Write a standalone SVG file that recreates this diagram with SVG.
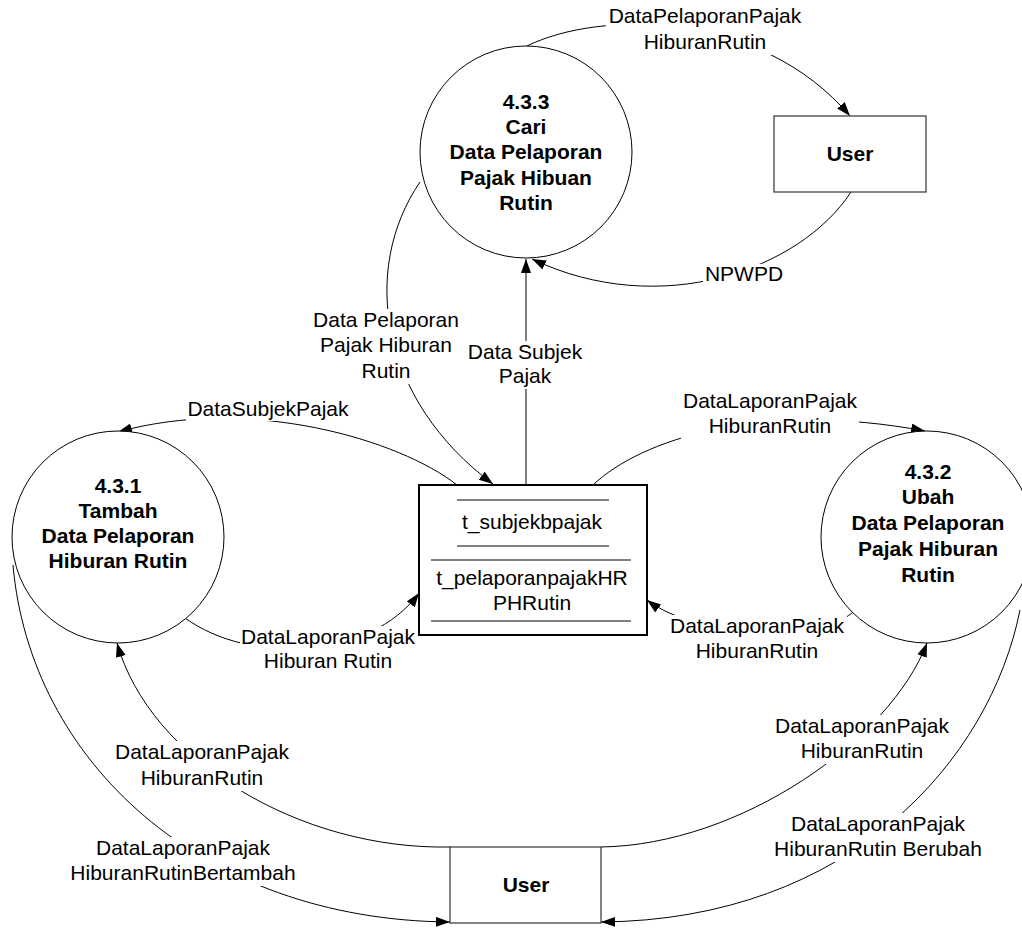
<svg xmlns="http://www.w3.org/2000/svg" width="1022" height="930" viewBox="0 0 1022 930">
<style>
.flow{fill:none;stroke:#000;stroke-width:1;marker-end:url(#ah)}
.lbl{font-family:"Liberation Sans",Arial,sans-serif;font-size:21px;fill:#000;text-anchor:middle}
.bg{fill:#fff;stroke:none}
.proc{fill:#fff;stroke:#000;stroke-width:1}
.ent{fill:#fff;stroke:#333;stroke-width:1.2}
.ttl{font-family:"Liberation Sans",Arial,sans-serif;font-size:21px;font-weight:bold;fill:#000;text-anchor:middle}
.store{fill:#fff;stroke:#000;stroke-width:2}
.sline{stroke:#000;stroke-width:1}
</style>
<defs>
<marker id="ah" markerUnits="userSpaceOnUse" markerWidth="15" markerHeight="11" refX="14" refY="5" orient="auto">
<path d="M0,0 L14,5 L0,10 z" fill="#000"/>
</marker>
</defs>
<rect width="1022" height="930" fill="#fff"/>
<g id="connectors">
<path class="flow" d="M527,46 C600,10 760,10 850,116"/>
<path class="flow" d="M851,192 C800,270 660,320 532,259"/>
<path class="flow" d="M526,485 L526,259"/>
<path class="flow" d="M420,182 C360,270 380,400 493,484"/>
<path class="flow" d="M457,485 C400,440 250,395 118,432"/>
<path class="flow" d="M185,618 C250,665 370,660 419,593"/>
<path class="flow" d="M852,613 C820,640 700,640 647,600"/>
<path class="flow" d="M593,485 C640,440 760,400 925,431"/>
<path class="flow" d="M450,847 C300,850 150,760 117,643"/>
<path class="flow" d="M13,565 C30,760 200,920 450,922"/>
<path class="flow" d="M601,847 C740,845 890,740 927,643"/>
<path class="flow" d="M1020,610 C990,760 850,920 601,922"/>
<g id="labels">
<rect class="bg" x="606" y="5" width="198" height="24"/>
<rect class="bg" x="642" y="29" width="132" height="26"/>
<text class="lbl" x="705" y="23">DataPelaporanPajak</text>
<text class="lbl" x="705" y="49">HiburanRutin</text>
<rect class="bg" x="703" y="264" width="82" height="22"/>
<text class="lbl" x="744" y="281">NPWPD</text>
<rect class="bg" x="311" y="309" width="150" height="24"/>
<rect class="bg" x="318" y="333" width="136" height="25"/>
<rect class="bg" x="360" y="358" width="52" height="26"/>
<text class="lbl" x="386" y="327">Data Pelaporan</text>
<text class="lbl" x="386" y="352">Pajak Hiburan</text>
<text class="lbl" x="386" y="378">Rutin</text>
<rect class="bg" x="466" y="341" width="118" height="24"/>
<rect class="bg" x="497" y="365" width="57" height="24"/>
<text class="lbl" x="525" y="359">Data Subjek</text>
<text class="lbl" x="525" y="383">Pajak</text>
<rect class="bg" x="186" y="399" width="165" height="22"/>
<text class="lbl" x="268" y="416">DataSubjekPajak</text>
<rect class="bg" x="681" y="390" width="178" height="49"/>
<text class="lbl" x="770" y="408">DataLaporanPajak</text>
<text class="lbl" x="770" y="433">HiburanRutin</text>
<rect class="bg" x="240" y="626" width="178" height="24"/>
<rect class="bg" x="262" y="650" width="132" height="24"/>
<text class="lbl" x="328" y="644">DataLaporanPajak</text>
<text class="lbl" x="328" y="668">Hiburan Rutin</text>
<rect class="bg" x="668" y="615" width="179" height="24"/>
<rect class="bg" x="694" y="639" width="126" height="25"/>
<text class="lbl" x="757" y="633">DataLaporanPajak</text>
<text class="lbl" x="757" y="658">HiburanRutin</text>
<rect class="bg" x="114" y="741" width="176" height="24"/>
<rect class="bg" x="139" y="765" width="126" height="26"/>
<text class="lbl" x="202" y="759">DataLaporanPajak</text>
<text class="lbl" x="202" y="785">HiburanRutin</text>
<rect class="bg" x="95" y="837" width="176" height="24"/>
<rect class="bg" x="70" y="861" width="227" height="25"/>
<text class="lbl" x="183" y="855">DataLaporanPajak</text>
<text class="lbl" x="183" y="880">HiburanRutinBertambah</text>
<rect class="bg" x="774" y="715" width="177" height="24"/>
<rect class="bg" x="799" y="739" width="126" height="25"/>
<text class="lbl" x="862" y="733">DataLaporanPajak</text>
<text class="lbl" x="862" y="758">HiburanRutin</text>
<rect class="bg" x="790" y="813" width="177" height="24"/>
<rect class="bg" x="773" y="837" width="211" height="25"/>
<text class="lbl" x="878" y="831">DataLaporanPajak</text>
<text class="lbl" x="878" y="856">HiburanRutin Berubah</text>
</g>
</g>
<g id="p433">
<circle class="proc" cx="526" cy="152" r="106"/>
<text class="ttl" x="526" y="109">4.3.3</text>
<text class="ttl" x="526" y="134">Cari</text>
<text class="ttl" x="526" y="159">Data Pelaporan</text>
<text class="ttl" x="526" y="185">Pajak Hibuan</text>
<text class="ttl" x="526" y="210">Rutin</text>
</g>
<g id="p431">
<circle class="proc" cx="118" cy="537" r="106"/>
<text class="ttl" x="118" y="493">4.3.1</text>
<text class="ttl" x="118" y="518">Tambah</text>
<text class="ttl" x="118" y="543">Data Pelaporan</text>
<text class="ttl" x="118" y="568">Hiburan Rutin</text>
</g>
<g id="p432">
<circle class="proc" cx="927" cy="537" r="106"/>
<text class="ttl" x="928" y="479">4.3.2</text>
<text class="ttl" x="928" y="504">Ubah</text>
<text class="ttl" x="928" y="530">Data Pelaporan</text>
<text class="ttl" x="928" y="556">Pajak Hiburan</text>
<text class="ttl" x="928" y="582">Rutin</text>
</g>
<g id="userTop">
<rect class="ent" x="774" y="116" width="152" height="76"/>
<text class="ttl" x="850" y="161">User</text>
</g>
<g id="userBottom">
<rect class="ent" x="450" y="847" width="151" height="76"/>
<text class="ttl" x="526" y="892">User</text>
</g>
<g id="store">
<rect class="store" x="419" y="485" width="228" height="150"/>
<line class="sline" x1="457" y1="500" x2="609" y2="500"/>
<text class="lbl" x="532" y="529">t_subjekbpajak</text>
<line class="sline" x1="457" y1="546" x2="609" y2="546"/>
<line class="sline" x1="431" y1="560" x2="631" y2="560"/>
<text class="lbl" x="532" y="585">t_pelaporanpajakHR</text>
<text class="lbl" x="532" y="610">PHRutin</text>
<line class="sline" x1="431" y1="621" x2="631" y2="621"/>
</g>
</svg>
